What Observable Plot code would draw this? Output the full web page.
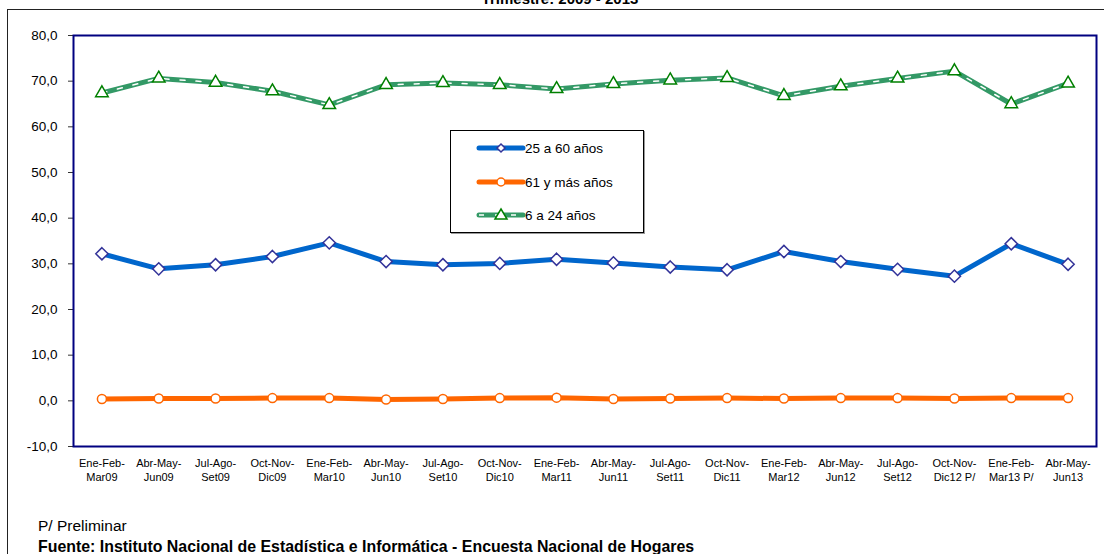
<!DOCTYPE html>
<html><head><meta charset="utf-8">
<script src="https://cdn.jsdelivr.net/npm/d3@7"></script>
<script src="https://cdn.jsdelivr.net/npm/@observablehq/plot@0.6"></script>
<style>
body{margin:0;background:#fff;font-family:Arial,"Liberation Sans",sans-serif;overflow:hidden}
#wrap{position:relative;width:1104px;height:554px;overflow:hidden;background:#fff}
#outer{position:absolute;left:7px;top:9px;width:1200px;height:700px;border:1px solid #222;box-sizing:border-box}
#title{position:absolute;left:0;width:1120px;top:-10px;text-align:center;font-weight:bold;font-size:15px}
#chart{position:absolute;left:0;top:0}
#legend{position:absolute;left:450px;top:130px;width:194px;height:103px;border:1px solid #000;box-sizing:border-box;background:#fff;box-shadow:1px 1px 0 #999}
#note{position:absolute;left:38px;top:517px;font-size:15.5px}
#src{position:absolute;left:38px;top:538px;font-size:15.9px;font-weight:bold}
</style></head><body>
<div id="wrap">
  <div id="outer"></div>
  <div id="title">Trimestre: 2009 - 2013</div>
  <div id="chart"></div>
  <div id="legend"></div>
  <div id="note">P/ Preliminar</div>
  <div id="src">Fuente: Instituto Nacional de Estadística e Informática - Encuesta Nacional de Hogares</div>
</div>
<script>
const periods = ["Ene-Feb-\nMar09","Abr-May-\nJun09","Jul-Ago-\nSet09","Oct-Nov-\nDic09",
  "Ene-Feb-\nMar10","Abr-May-\nJun10","Jul-Ago-\nSet10","Oct-Nov-\nDic10",
  "Ene-Feb-\nMar11","Abr-May-\nJun11","Jul-Ago-\nSet11","Oct-Nov-\nDic11",
  "Ene-Feb-\nMar12","Abr-May-\nJun12","Jul-Ago-\nSet12","Oct-Nov-\nDic12 P/",
  "Ene-Feb-\nMar13 P/","Abr-May-\nJun13"];
const series = ["25 a 60 años","61 y más años","6 a 24 años"];
const v25a60 = [32.2,28.9,29.8,31.6,34.6,30.5,29.8,30.1,31.0,30.2,29.3,28.7,32.7,30.5,28.8,27.3,34.4,29.9];
const v61mas = [0.4,0.5,0.5,0.6,0.6,0.3,0.4,0.6,0.7,0.4,0.5,0.6,0.5,0.6,0.6,0.5,0.6,0.6];
const v6a24  = [67.4,70.6,69.7,67.8,64.8,69.2,69.6,69.2,68.3,69.4,70.2,70.7,66.8,68.9,70.6,72.2,65.0,69.5];
const yTicks = [-10,0,10,20,30,40,50,60,70,80];

const rowsOf = (vals, s) => vals.map((v,i)=>({period:periods[i], value:v, serie:s}));
const dBlue = rowsOf(v25a60, series[0]);
const dOrange = rowsOf(v61mas, series[1]);
const dGreen = rowsOf(v6a24, series[2]);

const fmt = d => d.toFixed(1).replace(".", ",");

const plot = Plot.plot({
  width:1104, height:554,
  marginLeft:73, marginRight:8, marginTop:35, marginBottom:108,
  style:{fontFamily:"Arial, 'Liberation Sans', sans-serif", background:"transparent", color:"#000"},
  x:{type:"point", domain:periods, padding:0.5, round:false, label:null},
  y:{domain:[-10,80], label:null},
  marks:[
    Plot.axisY({ticks:yTicks, tickFormat:fmt, tickSize:5, tickPadding:11, fontSize:13.5, stroke:"#333", label:null}),
    Plot.axisX({tickSize:0, tickPadding:11, fontSize:11, lineHeight:1.25, label:null}),
    Plot.frame({stroke:"#000080", strokeWidth:2}),
    Plot.line(dGreen, {x:"period", y:"value", stroke:"#339966", strokeWidth:5}),
    Plot.line(dGreen, {x:"period", y:"value", stroke:"#fff", strokeWidth:1.5, strokeDasharray:"5 11"}),
    Plot.line(dBlue, {x:"period", y:"value", stroke:"#0066CC", strokeWidth:5}),
    Plot.line(dOrange, {x:"period", y:"value", stroke:"#FF6600", strokeWidth:5}),
    Plot.dot(dGreen, {x:"period", y:"value", symbol:"triangle2", r:6, fill:"#fff", stroke:"#008000", strokeWidth:1.5}),
    Plot.dot(dBlue, {x:"period", y:"value", symbol:"diamond2", r:5.5, fill:"#fff", stroke:"#333399", strokeWidth:1.5}),
    Plot.dot(dOrange, {x:"period", y:"value", symbol:"circle", r:4.5, fill:"#fff", stroke:"#FF6600", strokeWidth:1.5})
  ]
});
document.getElementById("chart").appendChild(plot);

// legend
const leg = d3.select("#legend").append("svg").attr("width",192).attr("height",101)
  .style("font-family","Arial, 'Liberation Sans', sans-serif").style("font-size","13.5px");
const items = [
  {name:series[0], color:"#0066CC", y:17, sym:"diamond"},
  {name:series[1], color:"#FF6600", y:51, sym:"circle"},
  {name:series[2], color:"#339966", y:84, sym:"triangle"}
];
items.forEach(it=>{
  leg.append("line").attr("x1",28).attr("x2",72).attr("y1",it.y).attr("y2",it.y)
    .attr("stroke",it.color).attr("stroke-width",5).attr("stroke-linecap","round");
  if(it.sym==="triangle"){
    leg.append("line").attr("x1",28).attr("x2",72).attr("y1",it.y).attr("y2",it.y)
      .attr("stroke","#fff").attr("stroke-width",1.5).attr("stroke-dasharray","5 11");
    leg.append("path").attr("d",`M50,${it.y-6} L56,${it.y+4} L44,${it.y+4} Z`).attr("fill","#fff").attr("stroke","#008000").attr("stroke-width",1.5);
  } else if(it.sym==="diamond"){
    leg.append("path").attr("d",`M50,${it.y-4} L54,${it.y} L50,${it.y+4} L46,${it.y} Z`).attr("fill","#fff").attr("stroke","#333399").attr("stroke-width",1.5);
  } else {
    leg.append("circle").attr("cx",50).attr("cy",it.y).attr("r",4).attr("fill","#fff").attr("stroke",it.color).attr("stroke-width",1.5);
  }
  leg.append("text").attr("x",74).attr("y",it.y).attr("dy","0.35em").text(it.name);
});
</script>
</body></html>
